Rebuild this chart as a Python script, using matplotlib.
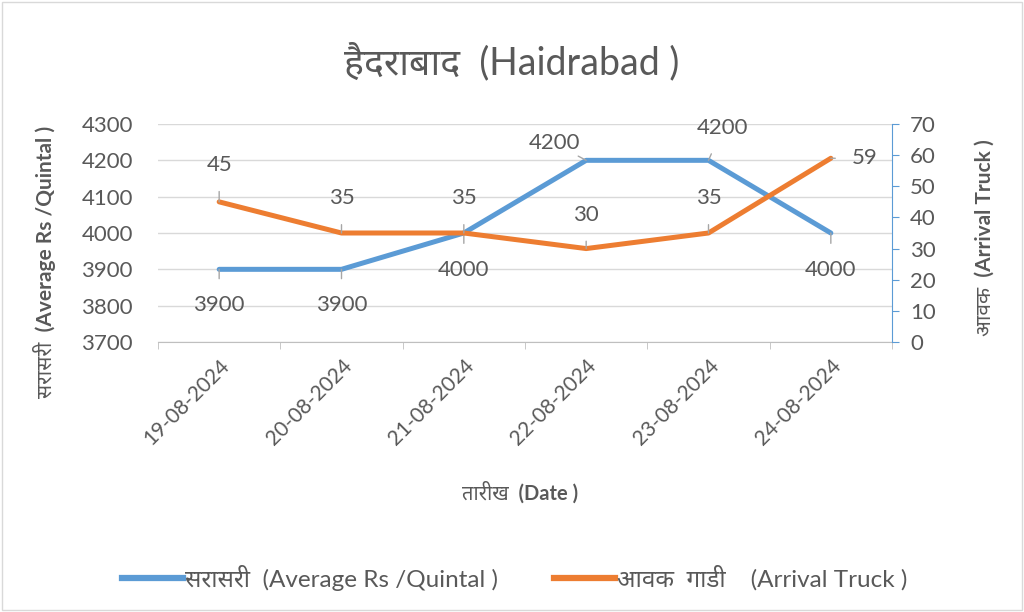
"""Haidrabad : prix moyen (Rs/quintal) et arrivées de camions, 19 au 24-08-2024."""

import matplotlib

matplotlib.use("Agg")
import matplotlib.pyplot as plt
from matplotlib.patches import Rectangle

# Données
dates = ["19-08-2024", "20-08-2024", "21-08-2024",
         "22-08-2024", "23-08-2024", "24-08-2024"]
prix_moyen = [3900, 3900, 4000, 4200, 4200, 4000]
arrivees = [45, 35, 35, 30, 35, 59]

BLEU = "#5B9BD5"
ORANGE = "#ED7D31"
GRIS_TEXTE = "#595959"
GRIS_LIGNE = "#D9D9D9"

plt.rcParams["font.family"] = ["Lato", "Noto Sans Devanagari", "Lohit Devanagari",
                               "FreeSans", "DejaVu Sans"]

fig = plt.figure(figsize=(10.24, 6.12), dpi=100)
ax = fig.add_axes([158 / 1024, 1 - 342 / 612, 734 / 1024, 218 / 612])
ax2 = ax.twinx()

x = list(range(len(dates)))
ax.plot(x, prix_moyen, color=BLEU, lw=3.6, solid_capstyle="round", zorder=3)
ax2.plot(x, arrivees, color=ORANGE, lw=3.6, solid_capstyle="round", zorder=3)

ax.set_xlim(-0.5, len(dates) - 0.5)
ax.set_ylim(3700, 4300)
ax.set_yticks(range(3700, 4301, 100))
ax2.set_ylim(0, 70)
ax2.set_yticks(range(0, 71, 10))

# Grille et axes façon Excel
ax.grid(axis="y", color=GRIS_LIGNE, lw=1)
ax.set_axisbelow(True)
for cote in ["top", "left", "right"]:
    ax.spines[cote].set_visible(False)
    ax2.spines[cote].set_visible(False)
ax.spines["bottom"].set_color("#BFBFBF")
ax2.spines["bottom"].set_visible(False)
ax2.spines["right"].set_visible(True)
ax2.spines["right"].set_color(BLEU)

ax.tick_params(axis="y", length=0, labelsize=16, labelcolor=GRIS_TEXTE, pad=18)
ax2.tick_params(axis="y", length=5, color=BLEU, direction="out",
                labelsize=16, labelcolor=GRIS_TEXTE, pad=8)
ax.set_xticks(x)
ax.set_xticklabels(dates, rotation=45, ha="right", rotation_mode="anchor",
                   fontsize=15, color=GRIS_TEXTE)
ax.tick_params(axis="x", which="major", length=0, pad=10)
ax.set_xticks([i - 0.5 for i in range(len(dates) + 1)], minor=True)
ax.tick_params(axis="x", which="minor", length=5, color="#BFBFBF")

# Étiquettes de données (décalages en pixels) avec traits de rappel
decal_prix = [(0, -36), (0, -36), (0, -37), (-32, 17), (14, 32), (0, -37)]
decal_arr = [(0, 37), (0, 35), (0, 35), (0, 34), (0, 35), (34, 0)]


def etiqueter(axe, valeurs, decalages):
    for i, (v, (dx, dy)) in enumerate(zip(valeurs, decalages)):
        axe.annotate(str(v), (i, v), xytext=(dx, dy), textcoords="offset pixels",
                     ha="center", va="center", fontsize=16, color=GRIS_TEXTE,
                     arrowprops=dict(arrowstyle="-", color="#A6A6A6", lw=1,
                                     shrinkA=10, shrinkB=0),
                     zorder=4)


etiqueter(ax, prix_moyen, decal_prix)
etiqueter(ax2, arrivees, decal_arr)

# Titres
fig.text(0.5, 1 - 62 / 612, "हैदराबाद  (Haidrabad )", ha="center", va="center",
         fontsize=27, color=GRIS_TEXTE)
fig.text(45 / 1024, 1 - 262 / 612, "सरासरी  (Average Rs /Quintal )", rotation=90,
         ha="center", va="center", fontsize=15, fontweight="bold", color=GRIS_TEXTE)
fig.text(985 / 1024, 1 - 238 / 612, "आवक  (Arrival Truck )", rotation=90,
         ha="center", va="center", fontsize=15, fontweight="bold", color=GRIS_TEXTE)
fig.text(520 / 1024, 1 - 493 / 612, "तारीख  (Date )", ha="center", va="center",
         fontsize=14.5, fontweight="bold", color=GRIS_TEXTE)

# Légende en bas
lignes = [plt.Line2D([], [], color=BLEU, lw=4.5),
          plt.Line2D([], [], color=ORANGE, lw=4.5)]
fig.legend(lignes, ["सरासरी  (Average Rs /Quintal )", "आवक  गाडी    (Arrival Truck )"],
           loc="center", bbox_to_anchor=(515 / 1024, 1 - 578 / 612), ncol=2,
           frameon=False, fontsize=17.5, labelcolor=GRIS_TEXTE, handlelength=2.5,
           columnspacing=2.3, handletextpad=0.1)

# Cadre gris autour de la figure
fig.patches.append(Rectangle((0.002, 0.003), 0.996, 0.994, transform=fig.transFigure,
                             fill=False, edgecolor="#D9D9D9", lw=1))

fig.savefig("out.png", dpi=100)
